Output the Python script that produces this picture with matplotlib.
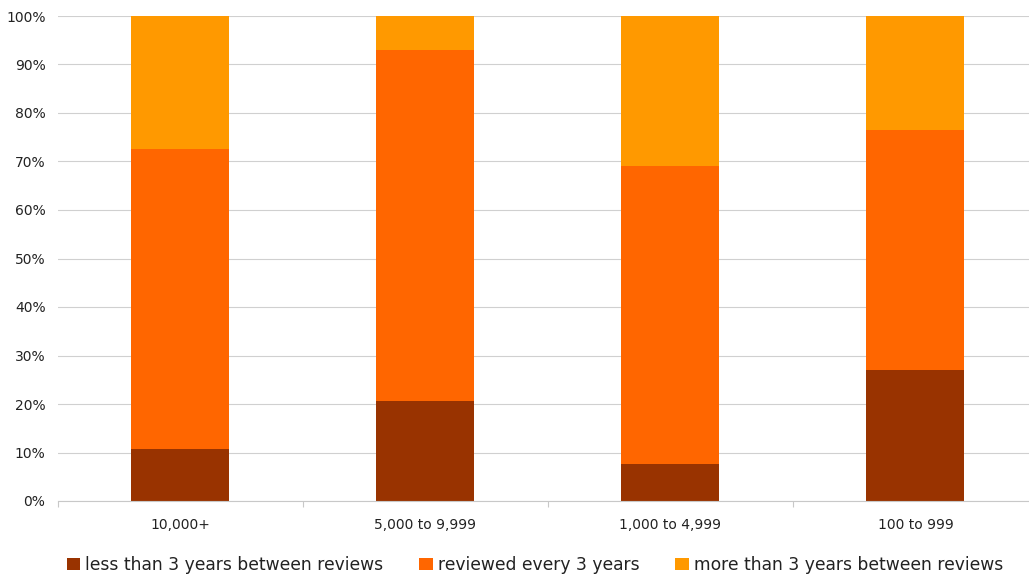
import matplotlib.pyplot as plt
from matplotlib.patches import Patch
from matplotlib.ticker import FuncFormatter, MultipleLocator

# share of organisations by review interval, per company size
categories = ["10,000+", "5,000 to 9,999", "1,000 to 4,999", "100 to 999"]
less_than_3 = [10.7, 20.6, 7.6, 27.0]
every_3 = [61.9, 72.4, 61.5, 49.5]
more_than_3 = [27.4, 7.0, 30.9, 23.5]

series_names = [
    "less than 3 years between reviews",
    "reviewed every 3 years",
    "more than 3 years between reviews",
]
colors = ["#993300", "#FF6600", "#FF9900"]

W, H = 1029, 578
fig = plt.figure(figsize=(W / 100, H / 100), dpi=100)
ax = fig.add_axes([58 / W, (H - 501) / H, 980 / W, 485 / H])

x = list(range(len(categories)))
bottom = [0.0] * len(categories)
for vals, color in zip((less_than_3, every_3, more_than_3), colors):
    ax.bar(x, vals, width=0.4, bottom=bottom, color=color, zorder=2)
    bottom = [b + v for b, v in zip(bottom, vals)]

ax.set_xlim(-0.5, len(categories) - 0.5)
ax.set_ylim(0, 100)
ax.yaxis.set_major_locator(MultipleLocator(10))
ax.yaxis.set_major_formatter(FuncFormatter(lambda v, _: f"{v:.0f}%"))
ax.grid(axis="y", color="#d0d0d0", linewidth=0.8, zorder=0)
ax.tick_params(axis="y", length=0, pad=9, labelsize=10, labelcolor="#222222")

ax.set_xticks(x)
ax.set_xticklabels(categories)
ax.set_xticks([i - 0.5 for i in range(len(categories) + 1)], minor=True)
ax.tick_params(axis="x", which="major", length=0, pad=12, labelsize=10, labelcolor="#222222")
ax.tick_params(axis="x", which="minor", length=4, color="#c8c8c8", width=0.8)

for side in ("left", "right", "top"):
    ax.spines[side].set_visible(False)
ax.spines["bottom"].set_color("#c8c8c8")
ax.spines["bottom"].set_linewidth(0.8)

handles = [Patch(facecolor=c, edgecolor="none") for c in colors]
fig.legend(handles, series_names, loc="center", bbox_to_anchor=(535 / W, 1 - 565 / H),
           ncol=3, frameon=False, fontsize=12.3, handlelength=0.78, handleheight=0.78,
           handletextpad=0.3, columnspacing=2.1, labelcolor="#222222")

fig.savefig("out.png", dpi=100)
